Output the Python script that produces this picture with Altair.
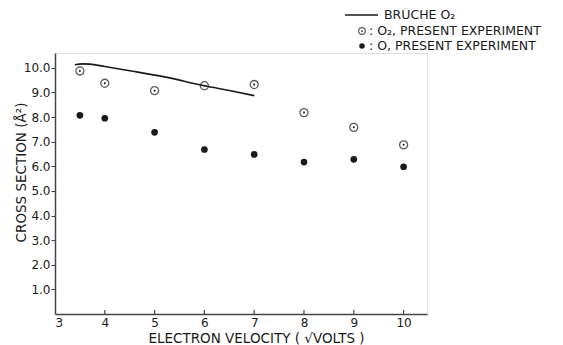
import altair as alt
import pandas as pd

# Data
velocity = [3.5, 4, 5, 6, 7, 8, 9, 10]
o2_present = [9.87, 9.37, 9.07, 9.27, 9.32, 8.18, 7.58, 6.87]
o_present = [8.07, 7.95, 7.38, 6.68, 6.48, 6.17, 6.28, 5.98]

bruche_x = [3.4, 3.55, 3.7, 4.0, 4.5, 5.2, 6.0, 6.55, 7.0]
bruche_y = [10.12, 10.16, 10.15, 10.05, 9.88, 9.63, 9.27, 9.06, 8.87]

x_ticks = [3, 4, 5, 6, 7, 8, 9, 10]
y_ticks = [1, 2, 3, 4, 5, 6, 7, 8, 9, 10]

W, H = 372, 261
FONT = "DejaVu Sans"
INK = "#1a1a1a"

pts = pd.DataFrame({"v": velocity, "o2": o2_present, "o": o_present})
bru = pd.DataFrame({"v": bruche_x, "s": bruche_y})
tk = pd.DataFrame({"v": x_ticks[1:]})

xs = alt.Scale(domain=[3, 10.47], nice=False, zero=False)
ys = alt.Scale(domain=[0, 10.6], nice=False, zero=False)

xax = alt.Axis(values=x_ticks, format="d", ticks=False, grid=False,
               domainColor="#444", domainWidth=1.5, labelFontSize=12,
               labelFont=FONT, labelColor=INK, labelPadding=3,
               labelOverlap=False,
               title="ELECTRON VELOCITY ( √VOLTS )", titleFont=FONT,
               titleFontSize=13.5, titleFontWeight="normal", titleColor=INK,
               titleX=201, titleY=24, titleBaseline="middle", titleAlign="center")
yax = alt.Axis(values=y_ticks, format=".1f", grid=False, tickSize=4,
               tickColor="#444", domainColor="#444", domainWidth=1.5,
               labelFontSize=12, labelFont=FONT, labelColor=INK, labelPadding=1,
               labelOverlap=False,
               title="CROSS SECTION (Å²)", titleFont=FONT, titleFontSize=13.5,
               titleFontWeight="normal", titleColor=INK,
               titleX=-34, titleY=119, titleBaseline="middle", titleAlign="center")

X = alt.X("v:Q", scale=xs, axis=xax)

line = alt.Chart(bru).mark_line(color=INK, strokeWidth=1.6, interpolate="monotone").encode(
    x=X, y=alt.Y("s:Q", scale=ys, axis=yax))

o2_ring = alt.Chart(pts).mark_point(shape="circle", filled=False, size=65,
                                    strokeWidth=1.3, color=INK).encode(
    x=X, y=alt.Y("o2:Q", scale=ys, axis=yax))
o2_dot = alt.Chart(pts).mark_circle(size=4, color=INK, opacity=1).encode(
    x=X, y=alt.Y("o2:Q", scale=ys, axis=yax))
o_dot = alt.Chart(pts).mark_circle(size=45, color=INK, opacity=1).encode(
    x=X, y=alt.Y("o:Q", scale=ys, axis=yax))

xticks = alt.Chart(tk).mark_rule(color="#444", strokeWidth=1.2).encode(
    x=X, y=alt.value(H), y2=alt.value(H - 4))

# Legend drawn by hand (top right)
one = pd.DataFrame({"a": [0]})
leg_line = alt.Chart(one).mark_rule(color=INK, strokeWidth=1.3).encode(
    x=alt.value(290), x2=alt.value(323), y=alt.value(-38))
leg_ring = alt.Chart(one).mark_point(
    shape="circle", filled=False, size=45, strokeWidth=1.2, color=INK).encode(
    x=alt.value(307), y=alt.value(-22))
leg_ring_dot = alt.Chart(one).mark_circle(size=3, color=INK, opacity=1).encode(
    x=alt.value(307), y=alt.value(-22))
leg_dot = alt.Chart(one).mark_circle(size=30, color=INK, opacity=1).encode(
    x=alt.value(307), y=alt.value(-7))

def leg_text(txt, x, y):
    return alt.Chart(pd.DataFrame({"t": [txt]})).mark_text(
        align="left", baseline="middle", font=FONT, fontSize=12.5, color=INK).encode(
        text="t:N", x=alt.value(x), y=alt.value(y))

chart = alt.layer(
    line, o2_ring, o2_dot, o_dot, xticks,
    leg_line, leg_ring, leg_ring_dot, leg_dot,
    leg_text("BRÜCHE O₂", 329, -38),
    leg_text(": O₂, PRESENT EXPERIMENT", 314, -22),
    leg_text(": O,  PRESENT EXPERIMENT", 314, -7),
).properties(
    width=W, height=H,
    padding={"left": 47, "top": 45, "right": 128, "bottom": 36},
    autosize=alt.AutoSizeParams(type="none"),
).configure_view(stroke=None).configure_axisY(labelOverlap=False).configure(background="white")

chart.save("out.html", embed_options={"renderer": "svg", "actions": False})
